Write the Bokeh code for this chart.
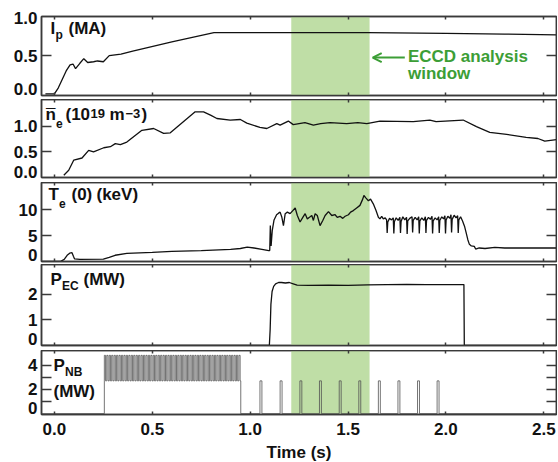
from bokeh.plotting import figure
from bokeh.layouts import column
from bokeh.models import (Range1d, FixedTicker, LinearAxis, BoxAnnotation, Label,
                          Arrow, OpenHead, PrintfTickFormatter)
from bokeh.embed import file_html
from bokeh.resources import INLINE

# ---------------- data ----------------
x_ticks = [0.0, 0.5, 1.0, 1.5, 2.0, 2.5]
eccd_window = [1.21, 1.61]

ip_t = [-0.046, 0.0, 0.02, 0.06, 0.08, 0.095, 0.108, 0.13, 0.15, 0.17, 0.20, 0.22, 0.25,
        0.28, 0.34, 0.40, 0.60, 0.815, 1.0, 1.2, 1.6, 2.0, 2.3, 2.565]
ip_v = [0.0, 0.0, 0.08, 0.30, 0.38, 0.39, 0.33, 0.40, 0.46, 0.41, 0.42, 0.43, 0.42,
        0.50, 0.52, 0.56, 0.68, 0.80, 0.80, 0.80, 0.80, 0.79, 0.78, 0.77]

ne_t = [0.048, 0.073, 0.099, 0.141, 0.175, 0.20, 0.252, 0.286, 0.311, 0.337, 0.37, 0.447,
        0.507, 0.558, 0.592, 0.719, 0.762, 0.80, 0.83, 0.898, 0.95, 0.983, 1.05, 1.085,
        1.136, 1.153, 1.195, 1.22, 1.28, 1.323, 1.36, 1.408, 1.493, 1.55, 1.596, 1.663,
        1.833, 1.918, 1.95, 2.088, 2.156, 2.224, 2.31, 2.41, 2.47, 2.505, 2.565]
ne_v = [0.045, 0.14, 0.34, 0.38, 0.53, 0.50, 0.58, 0.60, 0.66, 0.64, 0.69, 0.92,
        0.955, 0.86, 0.87, 1.28, 1.28, 1.21, 1.15, 1.12, 1.13, 1.06, 0.975, 0.955,
        1.05, 1.02, 1.10, 1.03, 1.07, 1.02, 1.05, 1.07, 1.05, 1.07, 1.05, 1.10,
        1.09, 1.12, 1.09, 1.12, 0.99, 0.88, 0.84, 0.78, 0.76, 0.71, 0.74]

te_t = [-0.066, 0.03, 0.05, 0.065, 0.078, 0.09, 0.097, 0.103, 0.13, 0.25, 0.28, 0.31, 0.37,
        0.50, 0.60, 0.75, 0.90, 0.95, 0.985, 1.02, 1.06, 1.095, 1.100, 1.103, 1.107, 1.113,
        1.122, 1.135, 1.145, 1.153, 1.162, 1.170, 1.179, 1.190, 1.204, 1.218, 1.230, 1.241,
        1.255, 1.269, 1.281, 1.292, 1.303, 1.315, 1.323, 1.332, 1.343, 1.357, 1.371, 1.383,
        1.400, 1.417, 1.434, 1.445, 1.459, 1.473, 1.485, 1.502, 1.513, 1.527, 1.544, 1.561,
        1.575, 1.581, 1.592, 1.604, 1.615, 1.629, 1.643, 1.655, 1.663, 1.672, 1.680,
        1.690, 1.697, 1.700, 1.703, 1.712, 1.722, 1.731, 1.734, 1.737, 1.746, 1.756, 1.765,
        1.768, 1.771, 1.780, 1.790, 1.799, 1.802, 1.805, 1.815, 1.827, 1.830, 1.833, 1.843,
        1.853, 1.861, 1.864, 1.867, 1.877, 1.887, 1.895, 1.898, 1.901, 1.911, 1.921, 1.929,
        1.932, 1.935, 1.945, 1.955, 1.963, 1.966, 1.969, 1.979, 1.988, 1.995, 1.998, 2.001,
        2.010, 2.020, 2.026, 2.029, 2.032, 2.042, 2.052, 2.060, 2.063, 2.066, 2.075, 2.085,
        2.095, 2.103, 2.112, 2.120, 2.130, 2.145, 2.152, 2.170, 2.20, 2.25, 2.30, 2.40,
        2.50, 2.565]
te_v = [0.0, 0.0, 0.4, 1.2, 1.6, 1.7, 1.0, 0.5, 0.4, 0.45, 0.8, 1.2, 1.55,
        1.75, 1.95, 2.1, 2.35, 2.5, 2.75, 2.6, 2.35, 2.1, 2.1, 6.9, 3.0, 6.0,
        8.0, 9.0, 9.3, 9.5, 8.5, 6.9, 9.2, 9.5, 9.2, 9.8, 10.3, 8.85,
        7.6, 8.5, 9.2, 8.2, 8.5, 8.85, 7.9, 9.2, 8.85, 6.9, 7.9, 8.85,
        9.6, 8.85, 9.0, 8.5, 8.7, 8.3, 8.7, 9.0, 9.5, 9.8, 10.3, 10.8,
        12.0, 12.7, 12.2, 11.7, 12.0, 11.1, 9.8, 8.5, 8.2, 8.7, 8.2,
        8.4, 8.0, 5.5, 7.6, 8.3, 8.0, 8.4, 5.4, 7.7, 8.4, 7.9, 8.5,
        5.5, 7.7, 8.6, 8.0, 8.5, 5.3, 7.8, 8.3, 8.6, 5.6, 7.9, 8.5,
        8.0, 8.6, 5.4, 7.8, 8.4, 7.9, 8.6, 5.5, 7.9, 8.5, 8.1, 8.7,
        5.4, 7.8, 8.4, 8.0, 8.6, 5.5, 7.9, 8.6, 8.2, 8.8, 5.4, 8.0,
        8.7, 8.3, 9.0, 5.6, 8.1, 8.9, 8.4, 8.8, 5.5, 8.0, 8.6, 7.8,
        6.8, 5.6, 4.2, 3.3, 3.0, 2.9, 2.4, 2.6, 2.5, 2.7, 2.6, 2.6,
        2.6, 2.6]

pec_t = [-0.066, 1.098, 1.102, 1.106, 1.112, 1.12, 1.13, 1.145, 1.16, 1.18, 1.20, 1.22,
         1.24, 1.30, 1.40, 1.50, 1.60, 1.70, 1.80, 1.90, 2.00, 2.092, 2.094, 2.565]
pec_v = [0.0, 0.0, 0.6, 1.6, 2.1, 2.3, 2.4, 2.45, 2.45, 2.43, 2.45, 2.40,
         2.35, 2.34, 2.35, 2.34, 2.36, 2.37, 2.38, 2.37, 2.37, 2.37, 0.0, 0.0]

# neutral beam: modulated block (on-times of each pulse), then short blips
nb_mod_on = [0.2550, 0.2675, 0.2800, 0.2925, 0.3050, 0.3175, 0.3300, 0.3425, 0.3550, 0.3675,
             0.3800, 0.3925, 0.4050, 0.4175, 0.4300, 0.4425, 0.4550, 0.4675, 0.4800, 0.4925,
             0.5050, 0.5175, 0.5300, 0.5425, 0.5550, 0.5675, 0.5800, 0.5925, 0.6050, 0.6175,
             0.6300, 0.6425, 0.6550, 0.6675, 0.6800, 0.6925, 0.7050, 0.7175, 0.7300, 0.7425,
             0.7550, 0.7675, 0.7800, 0.7925, 0.8050, 0.8175, 0.8300, 0.8425, 0.8550, 0.8675,
             0.8800, 0.8925, 0.9050, 0.9175, 0.9300, 0.9425]
nb_mod_pulse = 0.00625
nb_mod_end = 0.952
nb_hi = 4.8
nb_lo = 2.7
nb_blip_on = [1.050, 1.153, 1.254, 1.354, 1.455, 1.555, 1.655, 1.755, 1.855, 1.955]
nb_blip_width = 0.010
nb_blip_level = 2.7

# ---------------- build NB step trace from the lists ----------------
X0, X1 = -0.066, 2.565
nb_t = [X0, nb_mod_on[0]]
nb_v = [0.0, 0.0]
for s in nb_mod_on:
    nb_t += [s, s, s + nb_mod_pulse, s + nb_mod_pulse]
    nb_v += [nb_lo, nb_hi, nb_hi, nb_lo]
nb_t += [nb_mod_end, nb_mod_end]
nb_v += [nb_lo, 0.0]
for b in nb_blip_on:
    nb_t += [b, b, b + nb_blip_width, b + nb_blip_width]
    nb_v += [0.0, nb_blip_level, nb_blip_level, 0.0]
nb_t += [X1]
nb_v += [0.0]

# ---------------- styling ----------------
FONT = "Liberation Sans"
AX = "#3a3a3a"
INK = "#111111"
BAND = "#bfdea6"
GREEN = "#3c9e36"
FW = 515
xr = Range1d(X0, X1)


def style_axis(ax, tick_in, labels, fmt=None):
    ax.axis_line_color = AX
    ax.axis_line_width = 1.5
    ax.major_tick_line_color = AX
    ax.major_tick_line_width = 1.5
    ax.minor_tick_line_color = AX
    ax.minor_tick_line_width = 1.5
    ax.major_tick_in = tick_in
    ax.major_tick_out = 0
    ax.minor_tick_in = tick_in
    ax.minor_tick_out = 0
    if labels:
        ax.major_label_text_font = FONT
        ax.major_label_text_font_size = "17px"
        ax.major_label_text_font_style = "bold"
        ax.major_label_text_color = INK
        ax.major_label_standoff = 4
        if fmt:
            ax.formatter = PrintfTickFormatter(format=fmt)
    else:
        ax.major_label_text_font_size = "0px"
        ax.major_label_standoff = 0
        ax.major_label_text_alpha = 0


def make_fig(yr, fh, top, bottom, yticks, yminor, ylabels, xlabels=False):
    p = figure(frame_width=FW, frame_height=fh, x_range=xr, y_range=Range1d(*yr),
               output_backend="svg", toolbar_location=None,
               min_border_left=41, min_border_right=1,
               min_border_top=top, min_border_bottom=bottom,
               x_axis_location=None, y_axis_location=None)
    p.grid.visible = False
    p.outline_line_color = AX
    p.outline_line_width = 1.5
    p.background_fill_color = "white"
    p.border_fill_color = "white"
    bx = LinearAxis(ticker=FixedTicker(ticks=x_ticks))
    style_axis(bx, 3, xlabels, "%.1f")
    if xlabels:
        bx.major_label_standoff = 8
        bx.axis_label = "Time (s)"
        bx.axis_label_text_font = FONT
        bx.axis_label_text_font_size = "17px"
        bx.axis_label_text_font_style = "bold"
        bx.axis_label_text_color = INK
        bx.axis_label_standoff = 5
    p.add_layout(bx, "below")
    tx = LinearAxis(ticker=FixedTicker(ticks=x_ticks))
    style_axis(tx, 3, False)
    p.add_layout(tx, "above")
    # inward tick marks on the left (no labels)
    ly = LinearAxis(ticker=FixedTicker(ticks=yticks, minor_ticks=yminor))
    style_axis(ly, 10, False)
    p.add_layout(ly, "left")
    # tick labels on the left, kept inside the panel's height
    pos = [q for q, _ in ylabels]
    lab = LinearAxis(ticker=FixedTicker(ticks=pos),
                     major_label_overrides={q: s for q, s in ylabels})
    style_axis(lab, 0, True)
    lab.axis_line_color = None
    lab.major_tick_line_color = None
    lab.minor_tick_line_color = None
    p.add_layout(lab, "left")
    ry = LinearAxis(ticker=FixedTicker(ticks=yticks, minor_ticks=yminor))
    style_axis(ry, 10, False)
    p.add_layout(ry, "right")
    p.add_layout(BoxAnnotation(left=eccd_window[0], right=eccd_window[1],
                               fill_color=BAND, fill_alpha=1.0, line_alpha=0,
                               level="underlay"))
    return p


def txt(p, x, y, s, size=17, color=INK, xu="screen", yu="screen", **kw):
    p.add_layout(Label(x=x, y=y, x_units=xu, y_units=yu, text=s, text_font=FONT,
                       text_font_style="bold", text_font_size=f"{size}px",
                       text_color=color, **kw))


LINE = dict(line_color=INK, line_width=1.3)

# Panel 1 : Ip
p1 = make_fig((-0.02, 1.01), 79, 16, 4, [0.5], [],
              [(0.071, "0.0"), (0.5, "0.5"), (0.984, "1.0")])
p1.line(ip_t, ip_v, **LINE)
txt(p1, 9, 58, "I")
txt(p1, 14, 54, "p", size=12)
txt(p1, 27, 58, "(MA)")
p1.add_layout(Arrow(x_start=1.79, y_start=0.474, x_end=1.626, y_end=0.474,
                    line_color=GREEN, line_width=2,
                    end=OpenHead(size=9, line_color=GREEN, line_width=2)))
txt(p1, 1.806, 30, "ECCD analysis", color=GREEN, xu="data")
txt(p1, 1.806, 13, "window", color=GREEN, xu="data")

# Panel 2 : ne
p2 = make_fig((0.0, 1.52), 78, 0, 5, [0.5, 1.0], [],
              [(0.1, "0.0"), (0.5, "0.5"), (1.0, "1.0")])
p2.line(ne_t, ne_v, **LINE)
txt(p2, 4, 54, "n")
txt(p2, 4.5, 52.5, "\u00af")
txt(p2, 14.5, 50, "e", size=12)
txt(p2, 24, 54, "(10")
txt(p2, 49, 60, "19", size=13)
txt(p2, 68, 54, "m")
txt(p2, 84, 60, "\u22123", size=13)
txt(p2, 100, 54, ")")

# Panel 3 : Te
p3 = make_fig((0.0, 15.2), 79, 0, 3, [5, 10], [],
              [(1.3, "0"), (5, "5"), (10, "10")])
p3.line(te_t, te_v, **LINE)
txt(p3, 7, 58, "T")
txt(p3, 17.5, 54, "e", size=12)
txt(p3, 30, 58, "(0)")
txt(p3, 55, 58, "(keV)")

# Panel 4 : PEC
p4 = make_fig((0.0, 3.15), 81, 0, 5, [1, 2], [],
              [(0.27, "0"), (1, "1"), (2, "2")])
p4.line(pec_t, pec_v, **LINE)
txt(p4, 9, 57, "P")
txt(p4, 20.5, 53, "EC", size=12)
txt(p4, 42, 57, "(MW)")

# Panel 5 : PNB
p5 = make_fig((-0.07, 5.2), 64, 0, 0, [2, 4], [1, 3],
              [(0.45, "0"), (2, "2"), (4, "4")], xlabels=True)
p5.line(nb_t, nb_v, line_color="#505050", line_width=0.8)
txt(p5, 12, 40, "P")
txt(p5, 23.5, 36, "NB", size=12)
txt(p5, 12, 14, "(MW)")

layout = column(p1, p2, p3, p4, p5, spacing=0)
open("out.html", "w").write(file_html(layout, INLINE))
